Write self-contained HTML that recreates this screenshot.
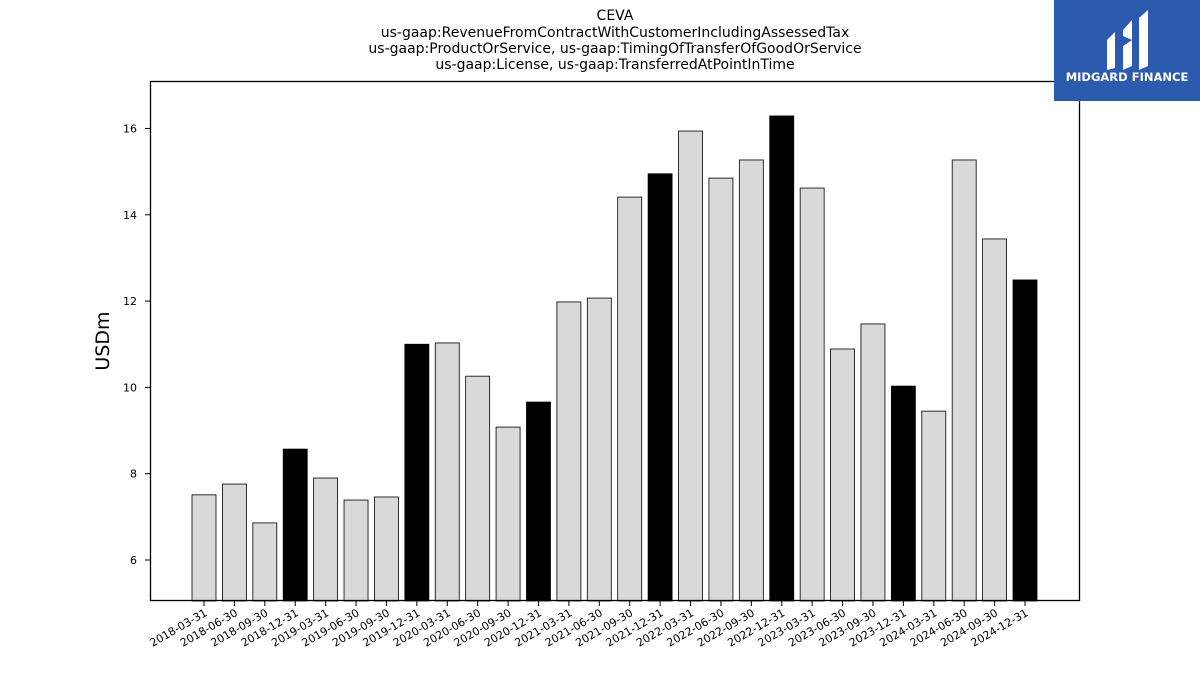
<!DOCTYPE html>
<html><head><meta charset="utf-8"><style>
body{margin:0;background:#fff;width:1200px;height:675px;overflow:hidden;font-family:"DejaVu Sans","Liberation Sans",sans-serif}
</style></head><body>
<svg id="chart" width="1200" height="675" xmlns="http://www.w3.org/2000/svg" font-family="DejaVu Sans, Liberation Sans, sans-serif">
<g font-size="14" text-anchor="middle" fill="#000">
<text x="615" y="20">CEVA</text>
<text x="615" y="37">us-gaap:RevenueFromContractWithCustomerIncludingAssessedTax</text>
<text x="615" y="53">us-gaap:ProductOrService, us-gaap:TimingOfTransferOfGoodOrService</text>
<text x="615" y="69">us-gaap:License, us-gaap:TransferredAtPointInTime</text>
</g>
<g id="bars"></g>
<g id="xticks"></g>
<g id="yticks"></g>
<rect x="150.5" y="81.5" width="929" height="519" fill="none" stroke="#000" stroke-width="1.3"/>
<text x="109" y="341" font-size="19" text-anchor="middle" transform="rotate(-90 109 341)">USDm</text>
<g>
<rect x="1054" y="0" width="146" height="101" fill="#2b5aae"/>
<path d="M1107 40 L1115 32 L1115 68 L1107 70 Z M1123 30 L1132 20 L1132 40 L1123 36 Z M1123 46 L1132 40 L1132 66 L1123 70 Z M1139 18 L1148 10 L1148 66 L1139 70 Z" fill="#fff"/>
<text x="1127" y="81" font-size="11.5" font-weight="bold" fill="#fff" text-anchor="middle">MIDGARD FINANCE</text>
</g>
</svg>
<script>
const categories=["2018-03-31","2018-06-30","2018-09-30","2018-12-31","2019-03-31","2019-06-30","2019-09-30","2019-12-31","2020-03-31","2020-06-30","2020-09-30","2020-12-31","2021-03-31","2021-06-30","2021-09-30","2021-12-31","2022-03-31","2022-06-30","2022-09-30","2022-12-31","2023-03-31","2023-06-30","2023-09-30","2023-12-31","2024-03-31","2024-06-30","2024-09-30","2024-12-31"];
const values=[7.51,7.76,6.86,8.57,7.90,7.39,7.46,11.0,11.03,10.26,9.08,9.66,11.98,12.07,14.41,14.95,15.94,14.85,15.27,16.29,14.62,10.89,11.47,10.03,9.45,15.27,13.44,12.49];
const yTicks=[6,8,10,12,14,16];
const NS="http://www.w3.org/2000/svg";
const yMin=5.05,yMax=17.1,plotTop=81,plotBottom=601;
const yScale=v=>plotBottom-(v-yMin)/(yMax-yMin)*(plotBottom-plotTop);
const x0=204,step=(1025-204)/27;
const xScale=i=>x0+i*step;
const bars=document.getElementById('bars'),xt=document.getElementById('xticks'),yt=document.getElementById('yticks');
categories.forEach((c,i)=>{
 const r=document.createElementNS(NS,'rect');
 
 
 const q4=c.endsWith('12-31');
 r.setAttribute('x',xScale(i)-12);r.setAttribute('width',24);
 r.setAttribute('y',yScale(values[i]));r.setAttribute('height',plotBottom-yScale(values[i]));
 r.setAttribute('fill',q4?'#000':'#d9d9d9');r.setAttribute('stroke','#000');r.setAttribute('stroke-width','0.8');
 bars.appendChild(r);
 const l=document.createElementNS(NS,'line');
 
 
 l.setAttribute('x1',xScale(i));l.setAttribute('x2',xScale(i));l.setAttribute('y1',601);l.setAttribute('y2',606);l.setAttribute('stroke','#000');
 xt.appendChild(l);
 const t=document.createElementNS(NS,'text');
 
 
 t.setAttribute('font-size','11');t.setAttribute('text-anchor','end');
 t.setAttribute('transform','translate('+(xScale(i)+4)+',615) rotate(-30)');
 t.textContent=c;xt.appendChild(t);
});
yTicks.forEach(v=>{
 const l=document.createElementNS(NS,'line');
 
 
 l.setAttribute('x1',145);l.setAttribute('x2',150);l.setAttribute('y1',yScale(v));l.setAttribute('y2',yScale(v));l.setAttribute('stroke','#000');
 yt.appendChild(l);
 const t=document.createElementNS(NS,'text');
 
 
 t.setAttribute('font-size','11');t.setAttribute('text-anchor','end');
 t.setAttribute('x',137);t.setAttribute('y',yScale(v)+4);t.textContent=v;yt.appendChild(t);
});
</script>
</body></html>
